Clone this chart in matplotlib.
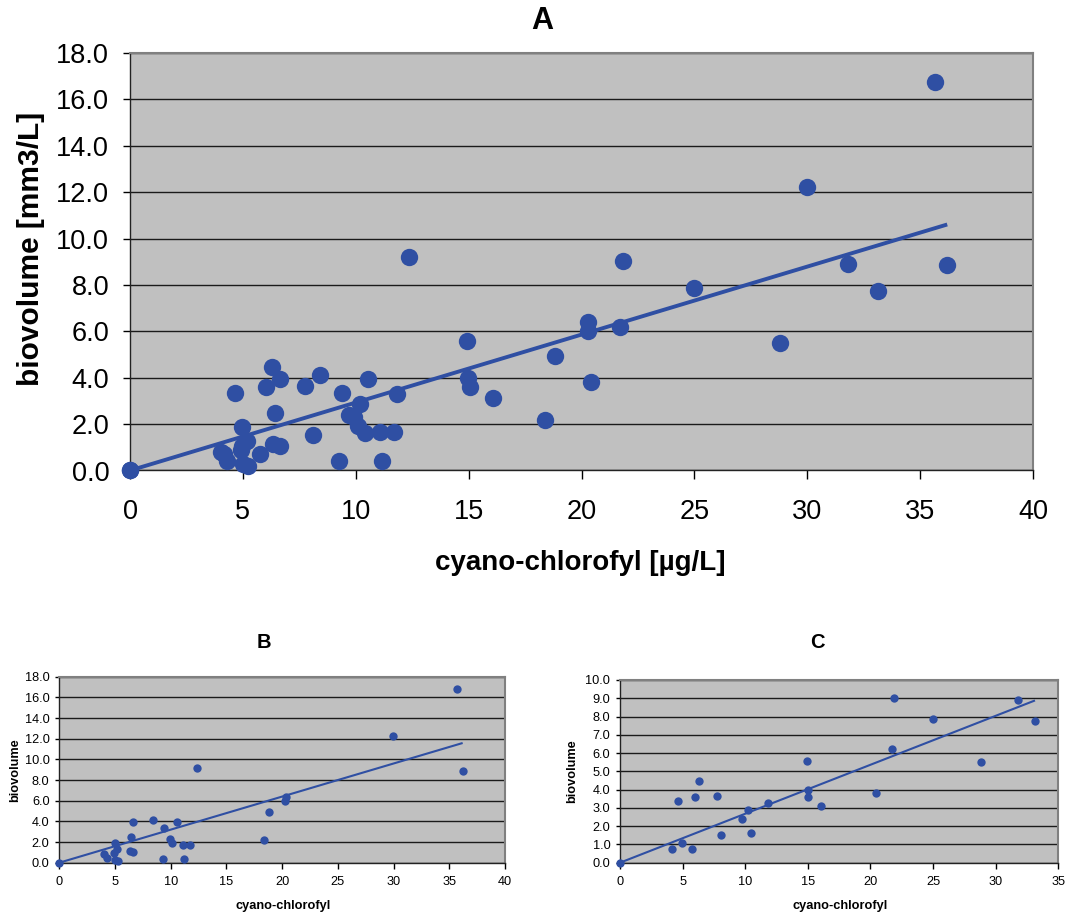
import numpy as np
import matplotlib
matplotlib.use('Agg')
import matplotlib.pyplot as plt

plt.rcParams['font.family'] = ['Liberation Sans', 'DejaVu Sans']

# panel B data (cyano-chlorofyl, biovolume)
b_x = [0, 35.66, 29.97, 36.2, 12.38, 18.82, 18.4, 20.31, 20.28, 6.64, 8.41, 9.39,
       10.56, 6.43, 9.93, 10.11, 11.07, 11.7, 9.27, 11.16, 6.34, 6.64, 4.97, 5.2,
       4.9, 4.04, 4.31, 5.0, 5.23]
b_y = [0, 16.77, 12.23, 8.87, 9.19, 4.94, 2.16, 6.39, 6.0, 3.94, 4.13, 3.35,
       3.94, 2.48, 2.29, 1.94, 1.68, 1.68, 0.39, 0.39, 1.16, 1.06, 1.87, 1.29,
       0.9, 0.81, 0.42, 0.26, 0.19]

# panel C data
c_x = [0, 21.85, 31.81, 33.14, 24.97, 21.69, 28.8, 14.91, 14.99, 15.04, 16.08,
       20.44, 6.28, 4.63, 6.02, 7.75, 11.84, 10.19, 9.72, 8.09, 10.43, 4.15,
       4.95, 5.75]
c_y = [0, 9.03, 8.92, 7.76, 7.86, 6.2, 5.51, 5.58, 3.98, 3.61, 3.12,
       3.8, 4.45, 3.36, 3.58, 3.63, 3.28, 2.88, 2.39, 1.51, 1.61, 0.73,
       1.06, 0.73]

# panel A = all samples
a_x = b_x + c_x
a_y = b_y + c_y

# trendline slopes (through origin)
slope_a = 0.293
slope_b = 0.320
slope_c = 0.268

blue = '#2F4FA3'
face = '#C0C0C0'

fig = plt.figure(figsize=(10.89, 9.13), dpi=100)


def panel(rect, xs, ys, slope, xmax, xstep, ymax, ystep, ms, lw, fs, xlen, ylen, xpad, ypad):
    ax = fig.add_axes(rect)
    ax.set_facecolor(face)
    ax.scatter(xs, ys, s=ms ** 2, color=blue, linewidths=0, zorder=3)
    xe = max(xs)
    ax.plot([0, xe], [0, slope * xe], color=blue, lw=lw, zorder=4,
            solid_capstyle='butt')
    ax.set_xlim(0, xmax)
    ax.set_ylim(0, ymax)
    ax.set_xticks(np.arange(0, xmax + 0.1, xstep))
    ax.set_yticks(np.arange(0, ymax + 0.01, ystep))
    ax.set_yticklabels(['%.1f' % v for v in np.arange(0, ymax + 0.01, ystep)])
    ax.yaxis.grid(True, color='#1a1a1a', lw=1.0)
    ax.set_axisbelow(True)
    ax.tick_params(axis='x', direction='out', length=xlen, width=1,
                   labelsize=fs, pad=xpad)
    ax.tick_params(axis='y', direction='out', length=ylen, width=1,
                   labelsize=fs, pad=ypad)
    for s in ['top', 'right']:
        ax.spines[s].set_color('#808080')
        ax.spines[s].set_linewidth(1.5)
    for s in ['left', 'bottom']:
        ax.spines[s].set_color('#222222')
        ax.spines[s].set_linewidth(1.0)
    for c in ax.collections + ax.lines:
        c.set_clip_on(False)
    return ax


W, H = 1089, 913


def rect(l, r, t, b):
    return [l / W, 1 - b / H, (r - l) / W, (b - t) / H]


panel(rect(130, 1033, 53, 470.5), a_x, a_y, slope_a, 40, 5, 18, 2,
      ms=12.5, lw=2.8, fs=19.5, xlen=6.5, ylen=5, xpad=14, ypad=10)
panel(rect(59.3, 505, 676.7, 862.7), b_x, b_y, slope_b, 40, 5, 18, 2,
      ms=6, lw=1.5, fs=9.2, xlen=4.3, ylen=3, xpad=5, ypad=4)
panel(rect(620, 1058.3, 680, 862.7), c_x, c_y, slope_c, 35, 5, 10, 1,
      ms=6, lw=1.5, fs=9.2, xlen=4.3, ylen=3, xpad=5, ypad=4)

# titles and axis labels
fig.text(542 / W, 1 - 21 / H, 'A', ha='center', va='center', fontsize=22, fontweight='bold')
fig.text(264 / W, 1 - 643 / H, 'B', ha='center', va='center', fontsize=14.5, fontweight='bold')
fig.text(817 / W, 1 - 643 / H, 'C', ha='center', va='center', fontsize=14.5, fontweight='bold')

fig.text(580 / W, 1 - 563 / H, 'cyano-chlorofyl [µg/L]', ha='center', va='center',
         fontsize=20, fontweight='bold')
fig.text(31 / W, 1 - 249 / H, 'biovolume [mm3/L]', ha='center', va='center',
         fontsize=21.5, fontweight='bold', rotation=90)

fig.text(283 / W, 1 - 906 / H, 'cyano-chlorofyl', ha='center', va='center',
         fontsize=9.2, fontweight='bold')
fig.text(15 / W, 1 - 770 / H, 'biovolume', ha='center', va='center',
         fontsize=9.2, fontweight='bold', rotation=90)
fig.text(840 / W, 1 - 906 / H, 'cyano-chlorofyl', ha='center', va='center',
         fontsize=9.2, fontweight='bold')
fig.text(572 / W, 1 - 771 / H, 'biovolume', ha='center', va='center',
         fontsize=9.2, fontweight='bold', rotation=90)

fig.savefig('out.png', dpi=100, facecolor='white')
